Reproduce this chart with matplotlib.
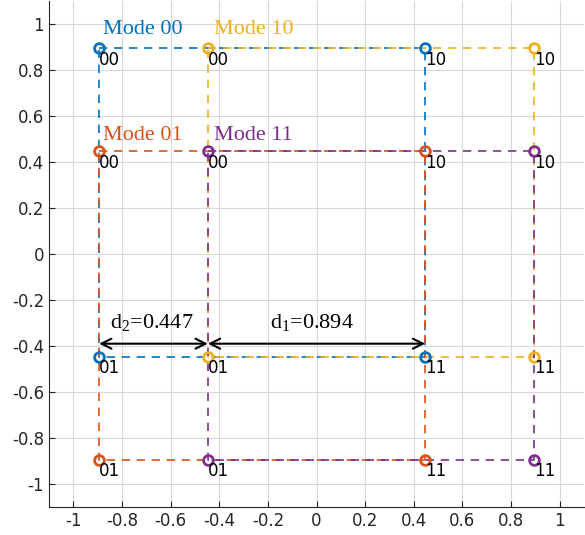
import matplotlib.pyplot as plt

plt.rcParams['mathtext.fontset'] = 'custom'
plt.rcParams['mathtext.rm'] = 'Liberation Serif'
plt.rcParams['mathtext.it'] = 'Liberation Serif:italic'

# constellation coordinates
a = 0.894
b = 0.447
modes = ['00', '01', '10', '11']
colors = ['#0072BD', '#D95319', '#EDB120', '#7E2F8E']
# corners of each mode's square
x_lo = [-a, -a, -b, -b]
x_hi = [b, b, a, a]
y_hi = [a, b, a, b]
y_lo = [-b, -a, -b, -a]
point_labels = ['00', '10', '11', '01']
mode_label_pos = [(-0.88, 0.975), (-0.88, 0.515), (-0.42, 0.975), (-0.42, 0.515)]

d1 = 0.894
d2 = 0.447
arrow_y = -0.39

fig = plt.figure(figsize=(5.85, 5.35), dpi=100)
ax = fig.add_axes([0.0838, 0.0523, 0.9145, 0.946])

for i in range(len(modes)):
    xs = [x_lo[i], x_hi[i], x_hi[i], x_lo[i], x_lo[i]]
    ys = [y_hi[i], y_hi[i], y_lo[i], y_lo[i], y_hi[i]]
    ax.plot(xs, ys, '--', color=colors[i], lw=1.2, dashes=(5, 4), zorder=2)
    ax.plot(xs[:4], ys[:4], 'o', mfc='none', mec=colors[i], mew=2, ms=7, zorder=3)
    for x, y, lab in zip(xs[:4], ys[:4], point_labels):
        ax.text(x, y - 0.05, lab, fontsize=12, ha='left', va='center', color='black', zorder=4)
    mx, my = mode_label_pos[i]
    ax.text(mx, my, 'Mode ' + modes[i], fontsize=16, family='Liberation Serif',
            color=colors[i], ha='left', va='center')

ax.annotate('', xy=(-a, arrow_y), xytext=(-a + d2, arrow_y),
            arrowprops=dict(arrowstyle='<->', color='black', lw=1.5, shrinkA=0, shrinkB=0,
                            mutation_scale=18))
ax.annotate('', xy=(-b, arrow_y), xytext=(-b + d1, arrow_y),
            arrowprops=dict(arrowstyle='<->', color='black', lw=1.5, shrinkA=0, shrinkB=0,
                            mutation_scale=18))
ax.text(-0.85, -0.30, r'd$_2$=%.3f' % d2, fontsize=16, family='Liberation Serif', ha='left', va='center')
ax.text(-0.19, -0.30, r'd$_1$=%.3f' % d1, fontsize=16, family='Liberation Serif', ha='left', va='center')

ax.set_xlim(-1.1, 1.1)
ax.set_ylim(-1.1, 1.1)
ticks = [-1, -0.8, -0.6, -0.4, -0.2, 0, 0.2, 0.4, 0.6, 0.8, 1]
ax.set_xticks(ticks)
ax.set_yticks(ticks)
ax.set_xticklabels(['%g' % t for t in ticks])
ax.set_yticklabels(['%g' % t for t in ticks])
ax.tick_params(direction='in', labelsize=12, colors='#262626', length=4)
ax.grid(True, color='#d8d8d8', lw=0.8)
ax.set_axisbelow(True)
ax.spines['top'].set_visible(False)
ax.spines['right'].set_visible(False)
ax.spines['left'].set_color('#262626')
ax.spines['bottom'].set_color('#262626')

fig.savefig('out.png')
